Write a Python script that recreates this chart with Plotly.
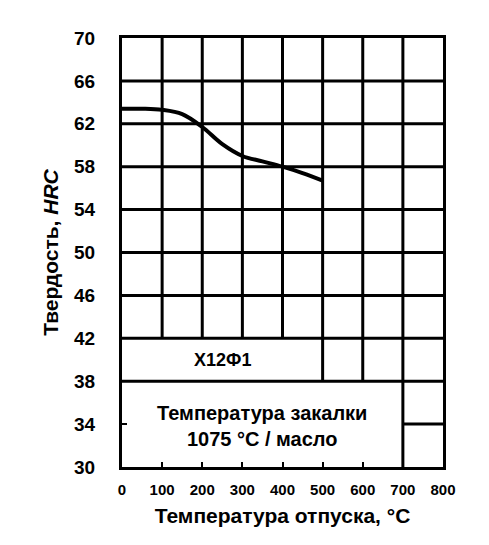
import plotly.graph_objects as go

# tempering curve, X12F1 steel
temper_temp = [0, 50, 100, 150, 200, 250, 300, 350, 400, 450, 500]
hardness = [63.4, 63.4, 63.3, 62.9, 61.7, 60.1, 59.0, 58.5, 58.0, 57.4, 56.7]

x_ticks = [0, 100, 200, 300, 400, 500, 600, 700, 800]
y_ticks = [30, 34, 38, 42, 46, 50, 54, 58, 62, 66, 70]

# grid layout (the lower rows are partly open for the labels)
full_rows = [38, 42, 46, 50, 54, 58, 62, 66]
upper_cols = [100, 200, 300, 400, 500, 600, 700]
steel_row_cols = [500, 600]
bottom_cols = [700]
short_rows = [34]

FONT = "Liberation Sans"
LW = 3

fig = go.Figure()
fig.add_trace(go.Scatter(x=temper_temp, y=hardness, mode="lines",
                         line=dict(color="black", width=4, shape="spline"),
                         showlegend=False, hoverinfo="skip"))

shapes = []
for y in full_rows:
    shapes.append(dict(type="line", x0=0, x1=800, y0=y, y1=y))
for x in upper_cols:
    shapes.append(dict(type="line", x0=x, x1=x, y0=42, y1=70))
for x in steel_row_cols:
    shapes.append(dict(type="line", x0=x, x1=x, y0=38, y1=42))
for x in bottom_cols:
    shapes.append(dict(type="line", x0=x, x1=x, y0=30, y1=42))
for y in short_rows:
    shapes.append(dict(type="line", x0=700, x1=800, y0=y, y1=y))
for s in shapes:
    s.update(xref="x", yref="y", layer="below", line=dict(color="black", width=LW))
fig.update_layout(shapes=shapes)

fig.add_annotation(x=250, y=40, xref="x", yref="y", showarrow=False,
                   text="<b>Х12Ф1</b>", font=dict(family=FONT, size=18, color="black"))
fig.add_annotation(x=350, y=33.8, xref="x", yref="y", showarrow=False,
                   text="<b>Температура закалки<br>1075 °С / масло</b>",
                   font=dict(family=FONT, size=20, color="black"))

fig.update_xaxes(range=[0, 800], tickvals=x_ticks, ticks="inside", ticklen=5, tickwidth=2,
                 tickcolor="black", showgrid=False, zeroline=False,
                 showline=True, mirror=True, linewidth=LW, linecolor="black",
                 ticklabelstandoff=7,
                 tickfont=dict(family=FONT, size=15, color="black", weight="bold"),
                 title=dict(text="<b>Температура отпуска, °С</b>", standoff=12,
                            font=dict(family=FONT, size=21, color="black")))
fig.update_yaxes(range=[30, 70], tickvals=y_ticks, ticks="inside", ticklen=5, tickwidth=2,
                 tickcolor="black", showgrid=False, zeroline=False,
                 showline=True, mirror=True, linewidth=LW, linecolor="black",
                 ticklabelstandoff=20,
                 tickfont=dict(family=FONT, size=19, color="black", weight="bold"),
                 title=dict(text="<b>Твердость, <i>HRC</i></b>", standoff=10,
                            font=dict(family=FONT, size=21, color="black")))

# the page puts the figure 8px in from the window corner
fig.update_layout(width=481, height=537, plot_bgcolor="white", paper_bgcolor="white",
                  margin=dict(l=114, r=46, t=30, b=78))

fig.write_html("out.html")
